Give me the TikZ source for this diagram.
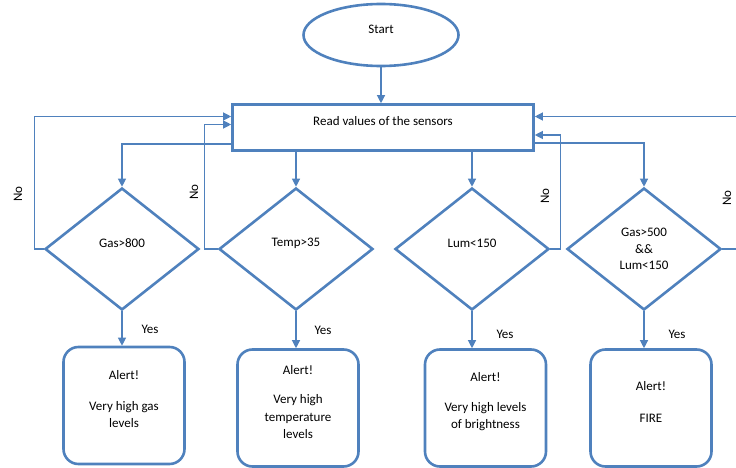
\documentclass[tikz,border=0pt]{standalone}
\usepackage{fontspec}
\setmainfont{Carlito}
\usetikzlibrary{shapes.geometric,arrows.meta}
\definecolor{ofblue}{RGB}{79,129,189}
\begin{document}
\begin{tikzpicture}[x=1pt,y=-1pt,>={Triangle[length=8pt,width=8pt]},
  font=\fontsize{13}{17.5}\selectfont,
  shp/.style={draw=ofblue,line width=2.6pt,inner sep=0pt},
  dia/.style={shp,diamond,minimum width=154pt,minimum height=122pt},
  alert/.style={shp,rounded corners=15pt,minimum width=121pt,minimum height=117pt},
  txt/.style={label={[align=center,yshift=6pt]center:#1}},
  conn/.style={draw=ofblue,line width=1.2pt,->}]
\clip (0,0) rectangle (736,468);
\node[shp,ellipse,minimum width=155pt,minimum height=62pt,txt=Start] (start) at (381,35) {};
\node[shp,minimum width=301pt,minimum height=46pt,txt={Read values of the sensors}] (read) at (383,127.5) {};
% decisions
\foreach \n/\x/\t in {1/122/Gas>800,2/296/Temp>35,3/472/Lum<150}
  \node[dia,txt={\t}] (d\n) at (\x,249) {};
\node[dia,label={[align=center,font=\fontsize{13}{16.5}\selectfont]center:Gas>500\\\&\&\\Lum<150}] (d4) at (644,249) {};
% alerts
\node[alert,txt={Alert!\\[13pt]Very high gas\\levels}] (b1) at (124,405.5) {};
\node[alert,txt={Alert!\\[12pt]Very high\\temperature\\levels}] (b2) at (298,408) {};
\node[alert,txt={Alert!\\[12pt]Very high levels\\of brightness}] (b3) at (485.5,408) {};
\node[alert,txt={Alert!\\[14pt]FIRE}] (b4) at (651,408) {};
% connectors
\draw[conn] (start) -- (start |- read.north);
\draw[conn] ([yshift=-16.5pt]read.west) -| (d1.north);
\foreach \n in {2,3} \draw[conn] (d\n.north |- read.south) -- (d\n.north);
\draw[conn] ([yshift=-15.5pt]read.east) -| (d4.north);
\draw[conn] (d1.west) -- ++(-9,0) |- ([yshift=11pt]read.west);
\draw[conn] (d2.west) -- ++(-13,0) |- ([yshift=3pt]read.west);
\draw[conn] (d3.east) -- ++(10,0) |- ([yshift=-7.5pt]read.east);
\draw[conn] (d4.east) -- ++(30,0) |- ([yshift=11pt]read.east);
\foreach \n in {1,...,4} \draw[conn] (d\n.south) -- (d\n.south |- b\n.north);
% labels
\foreach \n/\x/\y in {1/18/194,2/194/192,3/545/196,4/727/198}
  \node[rotate=90] (no\n) at (\x,\y) {No};
\foreach \n/\x/\y in {1/150/329,2/323/330,3/505/334,4/677/334}
  \node (yes\n) at (\x,\y) {Yes};
\end{tikzpicture}
\end{document}
